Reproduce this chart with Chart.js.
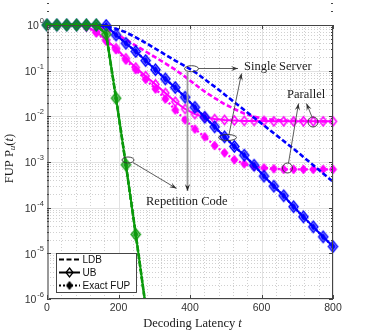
<!DOCTYPE html>
<html>
<head>
<meta charset="utf-8">
<script src="https://cdn.jsdelivr.net/npm/chart.js@4.4.0/dist/chart.umd.min.js"></script>
<style>
  html, body { margin: 0; padding: 0; background: #fff; }
</style>
</head>
<body>
<canvas id="chart" width="368" height="336"></canvas>
<script>
// decoding latency t at every marker position
const latency = [0, 27.6, 55.2, 82.8, 110.3, 137.9, 165.5, 193.1, 220.7, 248.3,
  275.9, 303.4, 331.0, 358.6, 386.2, 413.8, 441.4, 469.0, 496.6, 524.1,
  551.7, 579.3, 606.9, 634.5, 662.1, 689.7, 717.2, 744.8, 772.4, 800];

// Repetition code: LDB, UB and exact coincide
const repetition = [1, 1, 1, 1, 1, 1, 0.63, 0.025, 8.7e-4, 2.6e-5, 7e-7];

// Single server
const serverLDB = [1, 1, 1, 1, 1, 1, 0.933, 0.832, 0.692, 0.537,
  0.407, 0.302, 0.224, 0.166, 0.126, 0.0933, 0.0646, 0.0447, 0.0302, 0.0204,
  0.0138, 0.00933, 0.00631, 0.00427, 0.00288, 0.00195, 0.00129, 8.5e-4, 5.6e-4, 3.7e-4];
const serverUB = [1, 1, 1, 1, 1, 1, 0.977, 0.603, 0.398, 0.263,
  0.166, 0.105, 0.066, 0.0427, 0.0263, 0.0158, 0.00955, 0.00589, 0.00355, 0.00219,
  0.00141, 8.5e-4, 4.9e-4, 2.95e-4, 1.82e-4, 1.05e-4, 6.3e-5, 3.8e-5, 2.3e-5, 1.41e-5];
const serverExact = serverUB.slice();

// Parallel
const parallelLDB = [1, 1, 1, 1, 1, 0.933, 0.794, 0.631, 0.479, 0.355,
  0.263, 0.195, 0.145, 0.105, 0.0741, 0.0501, 0.0347, 0.0251, 0.0186, 0.0145,
  0.0115, 0.00977, 0.00891, 0.00832, 0.00813, 0.00794, 0.00794, 0.00776, 0.00776, 0.00776];
const parallelUB = [1, 1, 1, 1, 0.933, 0.708, 0.468, 0.309, 0.186, 0.117,
  0.0759, 0.0501, 0.0324, 0.0209, 0.0145, 0.0112, 0.00955, 0.00871, 0.00832, 0.00813,
  0.00794, 0.00794, 0.00794, 0.00776, 0.00776, 0.00776, 0.00776, 0.00776, 0.00776, 0.00776];
const parallelExact = [1, 1, 1, 1, 0.912, 0.676, 0.447, 0.288, 0.170, 0.105,
  0.0646, 0.0398, 0.0240, 0.0138, 0.00832, 0.00525, 0.00355, 0.00229, 0.00158, 0.00112,
  9.1e-4, 7.9e-4, 7.4e-4, 7.1e-4, 6.9e-4, 6.9e-4, 6.9e-4, 6.9e-4, 6.9e-4, 6.9e-4];

const xTicks = [0, 200, 400, 600, 800];
const xMinorStep = 40;
const yExponents = [0, -1, -2, -3, -4, -5, -6];

const BLUE = '#0000ff', MAGENTA = '#ff00ff', GREEN = '#0c9a0c';
const SANS = '"Liberation Sans", Arial, sans-serif';
const SERIF = '"Liberation Serif", "DejaVu Serif", serif';

function diamond(w, h, color, filled, lw) {
  const c = document.createElement('canvas');
  c.width = w + 4; c.height = h + 4;
  const g = c.getContext('2d');
  const cx = c.width / 2, cy = c.height / 2;
  g.beginPath();
  g.moveTo(cx, cy - h / 2);
  g.lineTo(cx + w / 2, cy);
  g.lineTo(cx, cy + h / 2);
  g.lineTo(cx - w / 2, cy);
  g.closePath();
  if (filled) { g.fillStyle = color; g.fill(); }
  g.lineWidth = lw;
  g.strokeStyle = color;
  g.stroke();
  return c;
}

function pts(values) {
  return values.map((v, i) => ({ x: latency[i], y: v }));
}

const clipBottom = { left: false, top: false, right: false, bottom: 0 };

function ldb(values, color) {
  return { data: pts(values), borderColor: color, borderWidth: 2.6, borderDash: [5, 2.5],
    pointRadius: 0, clip: clipBottom };
}
function ub(values, color, w, h) {
  return { data: pts(values), borderColor: color, borderWidth: 2,
    pointStyle: diamond(w, h, color, false, 1.5), pointRadius: 4, clip: clipBottom };
}
function exact(values, color, w, h) {
  return { data: pts(values), borderColor: color, borderWidth: 2.4, borderDash: [2, 2],
    pointStyle: diamond(w, h, color, true, 1), pointRadius: 4, clip: clipBottom };
}

const datasets = [
  exact(repetition, GREEN, 5, 7),
  ub(repetition, GREEN, 9, 11),
  ldb(repetition, GREEN),
  exact(serverExact, BLUE, 5, 7),
  ub(serverUB, BLUE, 9, 11),
  ldb(serverLDB, BLUE),
  exact(parallelExact, MAGENTA, 7, 9),
  ub(parallelUB, MAGENTA, 7, 9),
  ldb(parallelLDB, MAGENTA)
];

function arrow(ctx, x1, y1, x2, y2, color, lw, headColor) {
  ctx.save();
  ctx.strokeStyle = color;
  ctx.lineWidth = lw;
  ctx.beginPath();
  ctx.moveTo(x1, y1);
  ctx.lineTo(x2, y2);
  ctx.stroke();
  const a = Math.atan2(y2 - y1, x2 - x1);
  const L = 7, W = 2.6;
  ctx.fillStyle = headColor || color;
  ctx.beginPath();
  ctx.moveTo(x2, y2);
  ctx.lineTo(x2 - L * Math.cos(a) + W * Math.sin(a), y2 - L * Math.sin(a) - W * Math.cos(a));
  ctx.lineTo(x2 - 0.6 * L * Math.cos(a), y2 - 0.6 * L * Math.sin(a));
  ctx.lineTo(x2 - L * Math.cos(a) - W * Math.sin(a), y2 - L * Math.sin(a) + W * Math.cos(a));
  ctx.closePath();
  ctx.fill();
  ctx.restore();
}

function ellipse(ctx, x, y, rx, ry) {
  ctx.save();
  ctx.strokeStyle = '#333';
  ctx.lineWidth = 0.9;
  ctx.beginPath();
  ctx.ellipse(x, y, rx, ry, 0, 0, Math.PI * 2);
  ctx.stroke();
  ctx.restore();
}

function runs(ctx, parts, x, y) {
  // parts: [text, font, dy]
  let w = 0;
  parts.forEach(p => { ctx.font = p[1]; w += ctx.measureText(p[0]).width; });
  let cx = x - w / 2;
  parts.forEach(p => {
    ctx.font = p[1];
    ctx.fillText(p[0], cx, y + (p[2] || 0));
    cx += ctx.measureText(p[0]).width;
  });
}

const gridPlugin = {
  id: 'matlabGrid',
  beforeDatasetsDraw(chart) {
    const { ctx, chartArea: a, scales: { x, y } } = chart;
    ctx.save();
    ctx.lineWidth = 1;
    // minor grid, dotted
    ctx.strokeStyle = '#d0d0d0';
    ctx.setLineDash([1, 2]);
    for (let t = xMinorStep; t < 800; t += xMinorStep) {
      if (xTicks.includes(t)) continue;
      const px = Math.round(x.getPixelForValue(t)) + 0.5;
      ctx.beginPath(); ctx.moveTo(px, a.top); ctx.lineTo(px, a.bottom); ctx.stroke();
    }
    yExponents.forEach(e => {
      if (e === 0) return;
      for (let m = 2; m <= 9; m++) {
        const py = Math.round(y.getPixelForValue(m * Math.pow(10, e))) + 0.5;
        ctx.beginPath(); ctx.moveTo(a.left, py); ctx.lineTo(a.right, py); ctx.stroke();
      }
    });
    // major grid, solid
    ctx.setLineDash([]);
    ctx.strokeStyle = '#e2e2e2';
    xTicks.forEach(t => {
      const px = Math.round(x.getPixelForValue(t)) + 0.5;
      ctx.beginPath(); ctx.moveTo(px, a.top); ctx.lineTo(px, a.bottom); ctx.stroke();
    });
    yExponents.forEach(e => {
      const py = Math.round(y.getPixelForValue(Math.pow(10, e))) + 0.5;
      ctx.beginPath(); ctx.moveTo(a.left, py); ctx.lineTo(a.right, py); ctx.stroke();
    });
    ctx.restore();
  },
  afterDatasetsDraw(chart) {
    const { ctx, chartArea: a, scales: { x, y } } = chart;
    ctx.save();
    // box
    ctx.strokeStyle = '#444';
    ctx.lineWidth = 1;
    ctx.strokeRect(a.left + 0.5, a.top + 0.5, a.right - a.left - 1, a.bottom - a.top - 1);
    ctx.strokeStyle = '#999';
    ctx.lineWidth = 2;
    ctx.beginPath(); ctx.moveTo(a.left + 1, a.top); ctx.lineTo(a.left + 1, a.bottom); ctx.stroke();
    // ticks
    ctx.strokeStyle = '#444';
    ctx.lineWidth = 1;
    xTicks.forEach(t => {
      const px = Math.round(x.getPixelForValue(t)) + 0.5;
      ctx.beginPath();
      ctx.moveTo(px, a.bottom); ctx.lineTo(px, a.bottom - 4);
      ctx.moveTo(px, a.top); ctx.lineTo(px, a.top + 4);
      ctx.stroke();
    });
    yExponents.forEach(e => {
      for (let m = 1; m <= 9; m++) {
        if (e === -6 && m > 1) break;
        const py = Math.round(y.getPixelForValue(m * Math.pow(10, e))) + 0.5;
        const len = m === 1 ? 4 : 2;
        ctx.beginPath();
        ctx.moveTo(a.left, py); ctx.lineTo(a.left + len, py);
        ctx.moveTo(a.right, py); ctx.lineTo(a.right - len, py);
        ctx.stroke();
      }
    });
    // tick labels
    ctx.fillStyle = '#333';
    ctx.textBaseline = 'middle';
    ctx.textAlign = 'center';
    ctx.font = '10.5px ' + SANS;
    xTicks.forEach(t => ctx.fillText(String(t), x.getPixelForValue(t), a.bottom + 9.5));
    ctx.textAlign = 'left';
    yExponents.forEach(e => {
      const py = y.getPixelForValue(Math.pow(10, e));
      const sup = String(e);
      ctx.font = '7.5px ' + SANS;
      const ws = ctx.measureText(sup).width;
      ctx.fillText(sup, 43.8 - ws, py - 4);
      ctx.font = '10.5px ' + SANS;
      const wb = ctx.measureText('10').width;
      ctx.fillText('10', 43.8 - ws - 0.8 - wb, py + 1.5);
    });
    // axis titles
    ctx.fillStyle = '#1a1a1a';
    ctx.textAlign = 'left';
    ctx.textBaseline = 'middle';
    runs(ctx, [['Decoding Latency ', '12.5px ' + SERIF], ['t', 'italic 12.5px ' + SERIF]], 192.5, 323.5);
    ctx.save();
    ctx.translate(9.5, 158.5);
    ctx.rotate(-Math.PI / 2);
    runs(ctx, [['FUP P', '12.5px ' + SERIF], ['u', 'italic 9px ' + SERIF, 3],
      ['(', '12.5px ' + SERIF], ['t', 'italic 12.5px ' + SERIF], [')', '12.5px ' + SERIF]], 0, 0);
    ctx.restore();

    // annotations
    ellipse(ctx, 191.5, 68.7, 7, 3);
    ellipse(ctx, 227.5, 137.5, 9, 3);
    ellipse(ctx, 313, 122, 5, 5);
    ellipse(ctx, 287.5, 168, 5, 5);
    ellipse(ctx, 128, 160, 6, 3);
    arrow(ctx, 198.5, 68.5, 238, 68.5, '#333', 0.8);
    arrow(ctx, 229, 134.5, 241.5, 73.5, '#333', 0.8);
    arrow(ctx, 312, 117, 306.5, 103.5, '#333', 0.8);
    arrow(ctx, 288.5, 163, 298.5, 103.5, '#333', 0.8);
    arrow(ctx, 133, 162.5, 176.5, 188.5, '#333', 0.8);
    arrow(ctx, 187.5, 71.7, 187.5, 191, '#9a9a9a', 1.8, '#222');
    ctx.fillStyle = '#1a1a1a';
    ctx.font = '12.5px ' + SERIF;
    ctx.textAlign = 'left';
    ctx.fillText('Single Server', 244, 66.5);
    ctx.fillText('Parallel', 287, 94.5);
    ctx.fillText('Repetition Code', 146, 201.5);

    // legend
    const L = { x: 56.5, y: 253.5, w: 80, h: 39 };
    ctx.fillStyle = '#fff';
    ctx.fillRect(L.x, L.y, L.w, L.h);
    ctx.strokeStyle = '#333';
    ctx.lineWidth = 0.9;
    ctx.strokeRect(L.x, L.y, L.w, L.h);
    const rows = [
      { label: 'LDB', dash: [5, 2.5], marker: null },
      { label: 'UB', dash: [], marker: diamond(7, 9, '#000', false, 1.3) },
      { label: 'Exact FUP', dash: [2, 2], marker: diamond(6, 8, '#000', true, 1) }
    ];
    rows.forEach((r, i) => {
      const ry = 259.5 + i * 13;
      ctx.strokeStyle = '#000';
      ctx.lineWidth = 2;
      ctx.setLineDash(r.dash);
      ctx.beginPath(); ctx.moveTo(59, ry); ctx.lineTo(80, ry); ctx.stroke();
      ctx.setLineDash([]);
      if (r.marker) ctx.drawImage(r.marker, 69.5 - r.marker.width / 2, ry - r.marker.height / 2);
      ctx.fillStyle = '#111';
      ctx.font = '10px ' + SANS;
      ctx.textBaseline = 'middle';
      ctx.fillText(r.label, 82.5, ry + 0.5);
    });
    ctx.restore();
  }
};

const hidden = {
  ticks: { display: false },
  grid: { display: false, drawTicks: false },
  border: { display: false }
};

new Chart(document.getElementById('chart'), {
  type: 'line',
  data: { datasets: datasets },
  options: {
    responsive: false,
    devicePixelRatio: 1,
    animation: false,
    events: [],
    layout: { padding: { left: 47, top: 25, right: 35, bottom: 37 } },
    elements: { line: { tension: 0 }, point: { borderWidth: 0, hoverRadius: 4 } },
    scales: {
      x: Object.assign({ type: 'linear', min: 0, max: 800 }, hidden),
      y: Object.assign({ type: 'logarithmic', min: 1e-6, max: 1 }, hidden)
    },
    plugins: { legend: { display: false }, tooltip: { enabled: false } }
  },
  plugins: [gridPlugin]
});
</script>
</body>
</html>
